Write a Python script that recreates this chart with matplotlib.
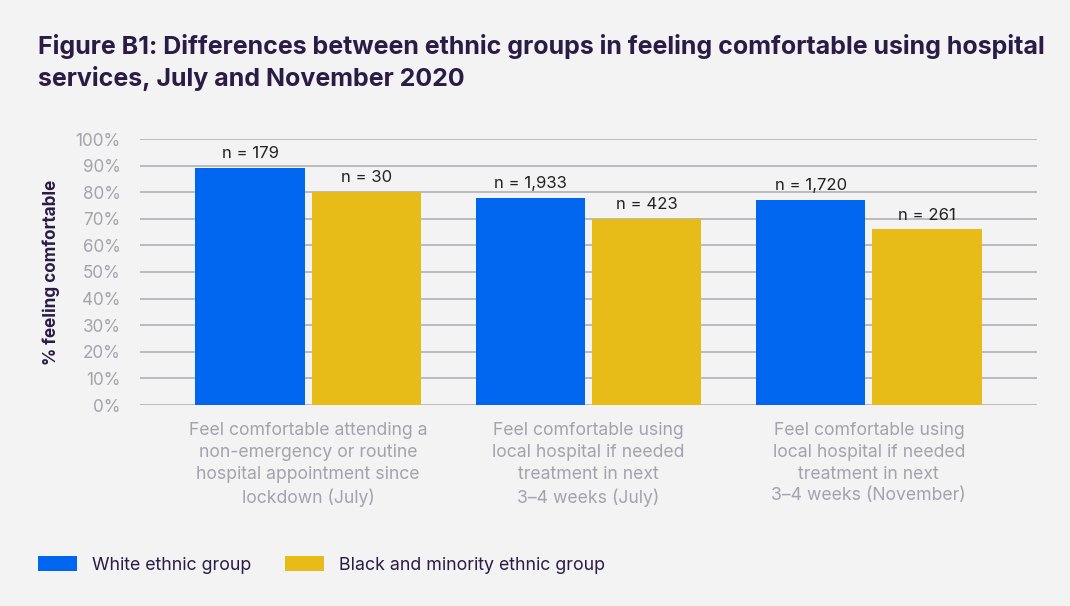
import matplotlib.pyplot as plt
import numpy as np

# Dados
categorias = [
    "Feel comfortable attending a\nnon-emergency or routine\nhospital appointment since\nlockdown (July)",
    "Feel comfortable using\nlocal hospital if needed\ntreatment in next\n3\u20134 weeks (July)",
    "Feel comfortable using\nlocal hospital if needed\ntreatment in next\n3\u20134 weeks (November)",
]
white_vals = [89, 78, 77]
bme_vals = [80, 70, 66]
white_n = ["n = 179", "n = 1,933", "n = 1,720"]
bme_n = ["n = 30", "n = 423", "n = 261"]
series_names = ["White ethnic group", "Black and minority ethnic group"]
yticks = list(range(0, 101, 10))

# Estilo
fundo = "#f3f3f3"
cor_white = "#0066f0"
cor_bme = "#e8bc18"
cor_titulo = "#2b1c47"
cor_ticks = "#a3a3ae"
cor_grade = "#b4b4bc"

plt.rcParams["font.family"] = ["Inter", "DejaVu Sans"]

fig = plt.figure(figsize=(10.7, 6.06), dpi=100, facecolor=fundo)
ax = fig.add_axes([140 / 1070, 1 - 405 / 606, 897 / 1070, 266 / 606])
ax.set_facecolor(fundo)

x = np.arange(len(categorias))
w = 0.39
off = 0.2075
b1 = ax.bar(x - off, white_vals, w, color=cor_white, zorder=3, label=series_names[0])
b2 = ax.bar(x + off, bme_vals, w, color=cor_bme, zorder=3, label=series_names[1])

for rect, txt in zip(b1, white_n):
    ax.text(rect.get_x() + rect.get_width() / 2, rect.get_height() + 2.6, txt,
            ha="center", va="bottom", fontsize=12, color="#222222")
for rect, txt in zip(b2, bme_n):
    ax.text(rect.get_x() + rect.get_width() / 2, rect.get_height() + 2.6, txt,
            ha="center", va="bottom", fontsize=12, color="#222222")

ax.set_xlim(-0.6, 2.6)
ax.set_ylim(0, 100)
ax.set_yticks(yticks)
ax.set_yticklabels([f"{v}%" for v in yticks], fontsize=12.3, color=cor_ticks)
ax.set_xticks(x)
ax.set_xticklabels(categorias, fontsize=12.7, color=cor_ticks, linespacing=1.38)
ax.tick_params(axis="both", length=0)
ax.tick_params(axis="y", pad=14)
ax.tick_params(axis="x", pad=12)
ax.grid(axis="y", color=cor_grade, linewidth=1.3, zorder=0)
for s in ax.spines.values():
    s.set_visible(False)

ax.set_ylabel("% feeling comfortable", fontsize=12.3, fontweight="bold",
              color=cor_titulo, labelpad=11)

fig.text(38 / 1070, 1 - 62.5 / 606,
         "Figure B1: Differences between ethnic groups in feeling comfortable using hospital\nservices, July and November 2020",
         fontsize=18, fontweight="bold", color=cor_titulo, va="center", ha="left", linespacing=1.38)

leg = fig.legend(handles=[b1, b2], loc="center left", bbox_to_anchor=(22 / 1070, 1 - 565 / 606),
                 ncol=2, frameon=False, fontsize=12.8, handlelength=2.2, handleheight=0.9,
                 columnspacing=1.9, handletextpad=0.85, labelcolor=cor_titulo)

fig.savefig("out.png", dpi=100, facecolor=fundo)
